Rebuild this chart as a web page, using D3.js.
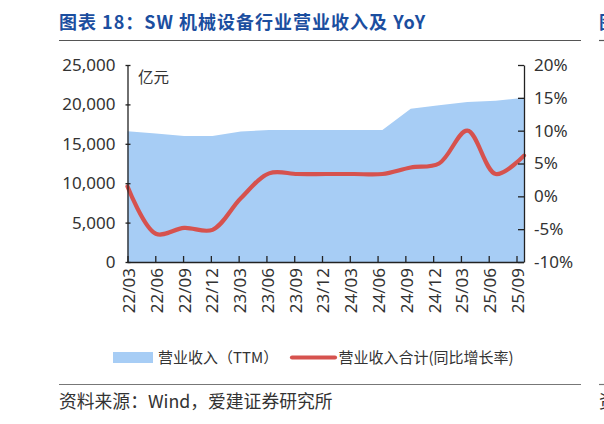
<!DOCTYPE html>
<html><head><meta charset="utf-8">
<script src="https://cdn.jsdelivr.net/npm/d3@7"></script>
<style>
html,body{margin:0;padding:0;background:#fff;}
svg{display:block;font-family:"Noto Sans CJK SC","Noto Sans",sans-serif;}
</style></head>
<body>
<svg id="c" width="604" height="424"></svg>
<script>
// ---- data ----
const categories = ["22/03","22/06","22/09","22/12","23/03","23/06","23/09","23/12","24/03","24/06","24/09","24/12","25/03","25/06","25/09"];
const revenueTTM = [16600,16300,16000,16000,16550,16750,16750,16750,16750,16750,19450,19900,20300,20450,20850];
const revenueYoY = [1.5,-5.7,-4.8,-5.1,-0.3,3.5,3.4,3.4,3.4,3.4,4.4,5.0,10.0,3.4,6.2];
const leftTicks = [0,5000,10000,15000,20000,25000];
const rightTicks = [-10,-5,0,5,10,15,20];

const title = "图表 18：SW 机械设备行业营业收入及 YoY";
const unitLabel = "亿元";
const legendArea = "营业收入（TTM）";
const legendLine = "营业收入合计(同比增长率)";
const source = "资料来源：Wind，爱建证券研究所";

const svg = d3.select("#c");
const L = 127.5, R = 524, T = 65, B = 262;
const textColor = "#333";
const areaColor = "#A7CDF5";
const lineColor = "#D6524E";
const numFont = "'Noto Sans','Open Sans',sans-serif";

// scales
const xData = d3.scalePoint().domain(categories).range([L, R]);
const xTick = d3.scalePoint().domain(categories).range([L, 516.5]);
const yL = d3.scaleLinear().domain([0,25000]).range([B,T]);
const yR = d3.scaleLinear().domain([-10,20]).range([B,T]);

// title
svg.append("text").attr("x",59).attr("y",29).attr("font-size",18).attr("font-weight","bold")
  .attr("letter-spacing",1).attr("fill","#1B4E9F").text(title);
svg.append("line").attr("x1",59).attr("x2",581).attr("y1",40.5).attr("y2",40.5).attr("stroke","#555").attr("stroke-width",1.2);
// partial neighbour chart
svg.append("text").attr("x",599).attr("y",29).attr("font-size",18).attr("font-weight","bold").attr("fill","#1B4E9F").text("图");
svg.append("line").attr("x1",599).attr("x2",604).attr("y1",40.5).attr("y2",40.5).attr("stroke","#555").attr("stroke-width",1.2);

// area
const area = d3.area().x((d,i)=>xData(categories[i])).y0(yL(0)).y1(d=>yL(d));
svg.append("path").datum(revenueTTM).attr("d",area).attr("fill",areaColor);

// line
const line = d3.line().x((d,i)=>xData(categories[i])).y(d=>yR(d)).curve(d3.curveCatmullRom.alpha(0.5));
svg.append("path").datum(revenueYoY).attr("d",line).attr("fill","none")
  .attr("stroke",lineColor).attr("stroke-width",4.2).attr("stroke-linejoin","round").attr("stroke-linecap","round");

// left axis
const gL = svg.append("g").attr("transform",`translate(${L},0)`)
  .call(d3.axisLeft(yL).tickValues(leftTicks).tickFormat(d3.format(",")).tickSizeInner(-4).tickSizeOuter(0).tickPadding(12));
gL.selectAll(".tick line").attr("x1",-2).attr("x2",3);
// right axis
const gR = svg.append("g").attr("transform",`translate(${R},0)`)
  .call(d3.axisRight(yR).tickValues(rightTicks).tickFormat(d=>d+"%").tickSizeInner(-6).tickSizeOuter(0).tickPadding(10));
// bottom axis
const gB = svg.append("g").attr("transform",`translate(0,${B})`)
  .call(d3.axisBottom(xTick).tickSizeInner(-6).tickSizeOuter(0).tickPadding(6));
gB.select(".domain").attr("d",`M${L},0.5H${R}`);
gB.selectAll(".tick text").attr("transform","rotate(-90)").attr("text-anchor","end")
  .attr("x",-6).attr("y",1).attr("dy","0.35em").attr("dx",0);

[gL,gR,gB].forEach(g=>{
  g.selectAll(".domain").attr("stroke","#222").attr("stroke-width",1.3);
  g.selectAll(".tick line").attr("stroke","#222").attr("stroke-width",1.3);
  g.selectAll(".tick text").attr("fill",textColor).attr("font-size",17).attr("font-family",numFont);
});

// unit
svg.append("text").attr("x",138).attr("y",83).attr("font-size",15.5).attr("fill",textColor).text(unitLabel);

// legend
const ly = 357.5;
svg.append("rect").attr("x",113).attr("y",ly-5.5).attr("width",40).attr("height",11).attr("fill",areaColor);
svg.append("text").attr("x",158).attr("y",ly).attr("dy","0.35em").attr("font-size",15).attr("fill",textColor).text(legendArea);
svg.append("line").attr("x1",292).attr("x2",335).attr("y1",ly).attr("y2",ly).attr("stroke",lineColor).attr("stroke-width",4.2).attr("stroke-linecap","round");
svg.append("text").attr("x",338.5).attr("y",ly).attr("dy","0.35em").attr("font-size",15).attr("fill",textColor).text(legendLine);

// source
svg.append("line").attr("x1",59).attr("x2",581).attr("y1",384.5).attr("y2",384.5).attr("stroke","#777").attr("stroke-width",1.2);
svg.append("text").attr("x",59).attr("y",402).attr("dy","0.35em").attr("font-size",17.8).attr("fill",textColor).text(source);
svg.append("line").attr("x1",599).attr("x2",604).attr("y1",384.5).attr("y2",384.5).attr("stroke","#777").attr("stroke-width",1.2);
svg.append("text").attr("x",599).attr("y",402).attr("dy","0.35em").attr("font-size",17.8).attr("fill",textColor).text("资");
</script>
</body></html>
